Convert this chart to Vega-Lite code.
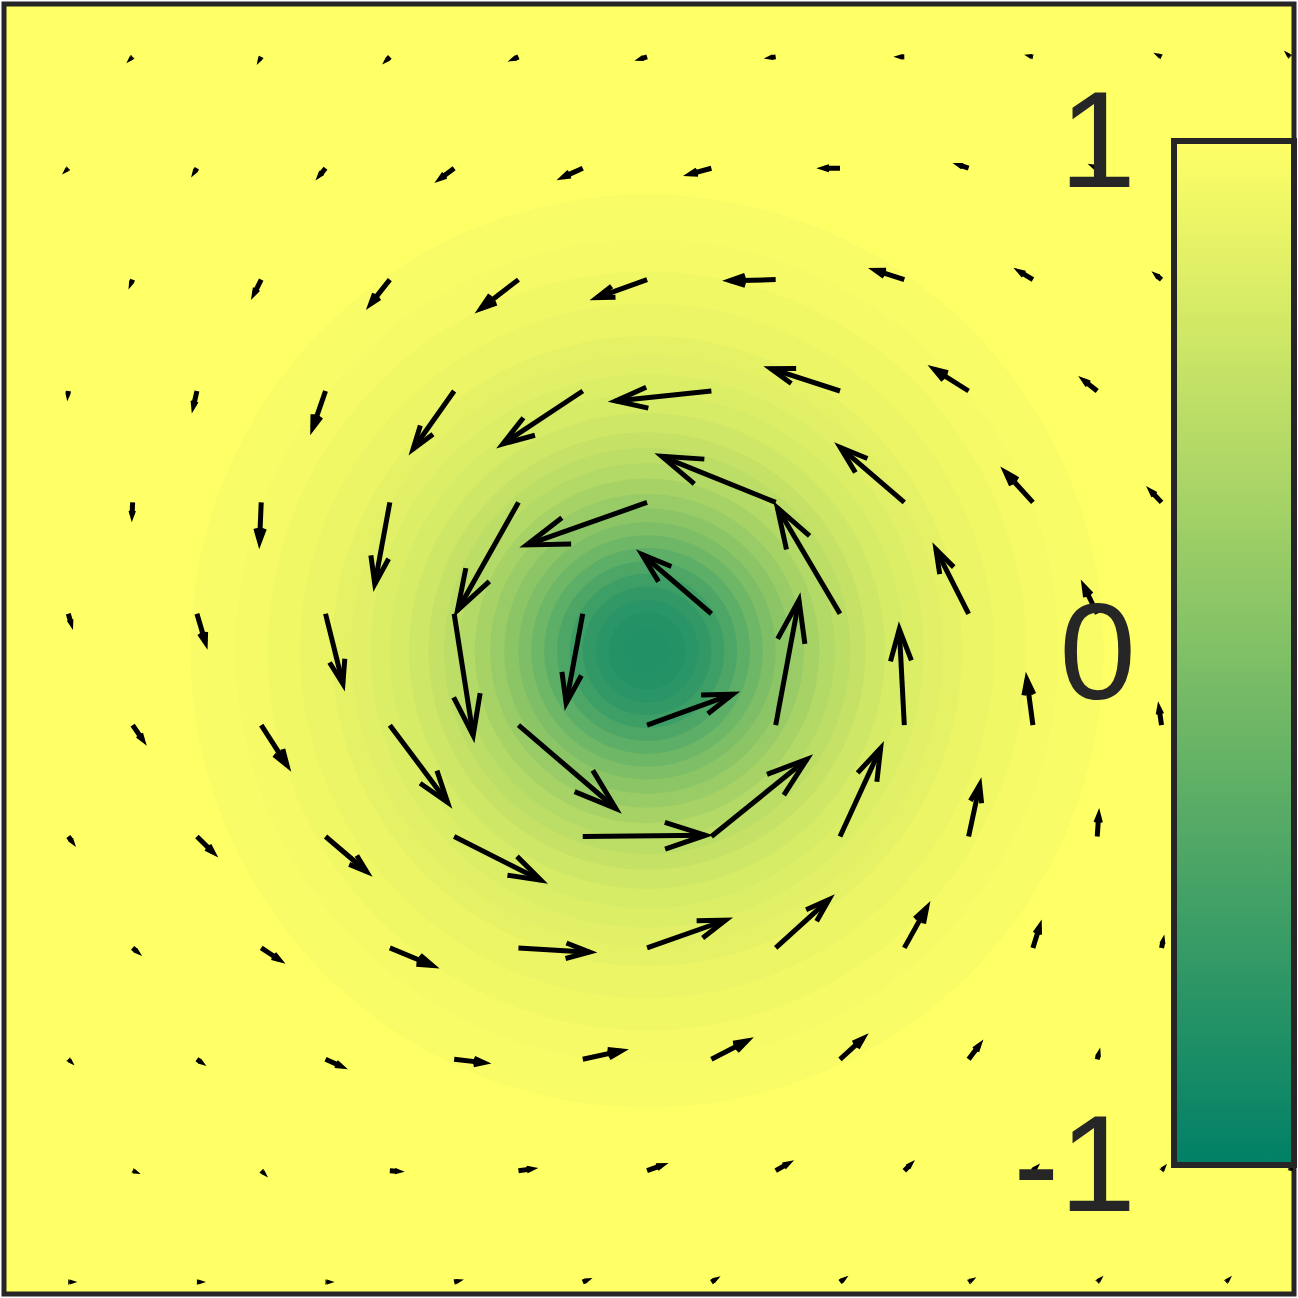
{
  "$schema": "https://vega.github.io/schema/vega-lite/v6.json",
  "width": 1290,
  "height": 1290,
  "padding": {"left": 4, "top": 4, "right": 4, "bottom": 4},
  "autosize": {"type": "none"},
  "background": "white",
  "config": {
    "font": "Liberation Sans, Arial, Helvetica, Roboto, sans-serif",
    "view": {"fill": "#FFFF66", "stroke": "#262626", "strokeWidth": 5},
    "legend": {"labelFont": "Liberation Sans, Arial, Helvetica, Roboto, sans-serif"}
  },
  "datasets": {
    "field": [
      {"cx": 0, "cy": 0, "r": 3.55, "z": 0.955},
      {"cx": 0, "cy": 0, "r": 3.45, "z": 0.945},
      {"cx": 0, "cy": 0, "r": 3.2, "z": 0.92},
      {"cx": 0, "cy": 0, "r": 2.95, "z": 0.89},
      {"cx": 0, "cy": 0, "r": 2.7, "z": 0.85},
      {"cx": 0, "cy": 0, "r": 2.45, "z": 0.8},
      {"cx": 0, "cy": 0, "r": 2.3, "z": 0.765},
      {"cx": 0, "cy": 0, "r": 2.15, "z": 0.725},
      {"cx": 0, "cy": 0, "r": 2.0, "z": 0.68},
      {"cx": 0, "cy": 0, "r": 1.85, "z": 0.62},
      {"cx": 0, "cy": 0, "r": 1.7, "z": 0.55},
      {"cx": 0, "cy": 0, "r": 1.58, "z": 0.48},
      {"cx": 0, "cy": 0, "r": 1.46, "z": 0.4},
      {"cx": 0, "cy": 0, "r": 1.34, "z": 0.31},
      {"cx": 0, "cy": 0, "r": 1.22, "z": 0.2},
      {"cx": 0, "cy": 0, "r": 1.11, "z": 0.09},
      {"cx": 0, "cy": 0, "r": 1.0, "z": -0.02},
      {"cx": 0, "cy": 0, "r": 0.9, "z": -0.14},
      {"cx": 0, "cy": 0, "r": 0.8, "z": -0.27},
      {"cx": 0, "cy": 0, "r": 0.7, "z": -0.4},
      {"cx": 0, "cy": 0, "r": 0.6, "z": -0.52},
      {"cx": 0, "cy": 0, "r": 0.5, "z": -0.61},
      {"cx": 0, "cy": 0, "r": 0.4, "z": -0.67},
      {"cx": 0, "cy": 0, "r": 0.3, "z": -0.71},
      {"cx": 0, "cy": 0, "r": 0.18, "z": -0.73}
    ],
    "arrows": [
      {"x": -4, "y": 4.619, "u": -0.005, "v": -0.005},
      {"x": -3, "y": 4.619, "u": -0.005, "v": -0.009},
      {"x": -2, "y": 4.619, "u": -0.016, "v": -0.016},
      {"x": -1, "y": 4.619, "u": -0.027, "v": -0.012},
      {"x": 0, "y": 4.619, "u": -0.039, "v": -0.012},
      {"x": 1, "y": 4.619, "u": -0.031, "v": -0.004},
      {"x": 2, "y": 4.619, "u": -0.023, "v": 0.0},
      {"x": 3, "y": 4.619, "u": -0.008, "v": 0.002},
      {"x": 4, "y": 4.619, "u": -0.008, "v": 0.004},
      {"x": 5, "y": 4.619, "u": -0.005, "v": 0.005},
      {"x": -4.5, "y": 3.753, "u": -0.005, "v": -0.005},
      {"x": -3.5, "y": 3.753, "u": -0.012, "v": -0.019},
      {"x": -2.5, "y": 3.753, "u": -0.039, "v": -0.047},
      {"x": -1.5, "y": 3.753, "u": -0.104, "v": -0.078},
      {"x": -0.5, "y": 3.753, "u": -0.148, "v": -0.067},
      {"x": 0.5, "y": 3.753, "u": -0.161, "v": -0.044},
      {"x": 1.5, "y": 3.753, "u": -0.122, "v": 0.0},
      {"x": 2.5, "y": 3.753, "u": -0.066, "v": 0.022},
      {"x": 3.5, "y": 3.753, "u": -0.019, "v": 0.009},
      {"x": 4.5, "y": 3.753, "u": -0.008, "v": 0.008},
      {"x": -4, "y": 2.887, "u": -0.008, "v": -0.019},
      {"x": -3, "y": 2.887, "u": -0.052, "v": -0.103},
      {"x": -2, "y": 2.887, "u": -0.148, "v": -0.187},
      {"x": -1, "y": 2.887, "u": -0.292, "v": -0.225},
      {"x": 0, "y": 2.887, "u": -0.389, "v": -0.14},
      {"x": 1, "y": 2.887, "u": -0.355, "v": -0.008},
      {"x": 2, "y": 2.887, "u": -0.223, "v": 0.072},
      {"x": 3, "y": 2.887, "u": -0.099, "v": 0.06},
      {"x": 4, "y": 2.887, "u": -0.031, "v": 0.026},
      {"x": 5, "y": 2.887, "u": -0.012, "v": 0.012},
      {"x": -4.5, "y": 2.021, "u": -0.002, "v": -0.019},
      {"x": -3.5, "y": 2.021, "u": -0.026, "v": -0.114},
      {"x": -2.5, "y": 2.021, "u": -0.099, "v": -0.285},
      {"x": -1.5, "y": 2.021, "u": -0.319, "v": -0.451},
      {"x": -0.5, "y": 2.021, "u": -0.622, "v": -0.412},
      {"x": 0.5, "y": 2.021, "u": -0.744, "v": -0.078},
      {"x": 1.5, "y": 2.021, "u": -0.537, "v": 0.174},
      {"x": 2.5, "y": 2.021, "u": -0.267, "v": 0.169},
      {"x": 3.5, "y": 2.021, "u": -0.099, "v": 0.078},
      {"x": 4.5, "y": 2.021, "u": -0.023, "v": 0.023},
      {"x": -4, "y": 1.155, "u": -0.004, "v": -0.093},
      {"x": -3, "y": 1.155, "u": -0.013, "v": -0.303},
      {"x": -2, "y": 1.155, "u": -0.117, "v": -0.635},
      {"x": -1, "y": 1.155, "u": -0.474, "v": -0.84},
      {"x": 0, "y": 1.155, "u": -0.935, "v": -0.331},
      {"x": 1, "y": 1.155, "u": -0.886, "v": 0.358},
      {"x": 2, "y": 1.155, "u": -0.498, "v": 0.428},
      {"x": 3, "y": 1.155, "u": -0.212, "v": 0.233},
      {"x": 4, "y": 1.155, "u": -0.078, "v": 0.083},
      {"x": 5, "y": 1.155, "u": -0.023, "v": 0.031},
      {"x": -4.5, "y": 0.289, "u": 0.019, "v": -0.066},
      {"x": -3.5, "y": 0.289, "u": 0.065, "v": -0.22},
      {"x": -2.5, "y": 0.289, "u": 0.135, "v": -0.544},
      {"x": -1.5, "y": 0.289, "u": 0.148, "v": -0.946},
      {"x": -0.5, "y": 0.289, "u": -0.129, "v": -0.695},
      {"x": 0.5, "y": 0.289, "u": -0.539, "v": 0.461},
      {"x": 1.5, "y": 0.289, "u": -0.487, "v": 0.824},
      {"x": 2.5, "y": 0.289, "u": -0.254, "v": 0.5},
      {"x": 3.5, "y": 0.289, "u": -0.101, "v": 0.21},
      {"x": 4.5, "y": 0.289, "u": -0.023, "v": 0.062},
      {"x": -4, "y": -0.577, "u": 0.075, "v": -0.109},
      {"x": -3, "y": -0.577, "u": 0.2, "v": -0.311},
      {"x": -2, "y": -0.577, "u": 0.449, "v": -0.601},
      {"x": -1, "y": -0.577, "u": 0.757, "v": -0.648},
      {"x": 0, "y": -0.577, "u": 0.666, "v": 0.241},
      {"x": 1, "y": -0.577, "u": 0.181, "v": 0.972},
      {"x": 2, "y": -0.577, "u": -0.039, "v": 0.746},
      {"x": 3, "y": -0.577, "u": -0.047, "v": 0.353},
      {"x": 4, "y": -0.577, "u": -0.018, "v": 0.124},
      {"x": 5, "y": -0.577, "u": -0.004, "v": 0.039},
      {"x": -4.5, "y": -1.443, "u": 0.023, "v": -0.031},
      {"x": -3.5, "y": -1.443, "u": 0.122, "v": -0.12},
      {"x": -2.5, "y": -1.443, "u": 0.319, "v": -0.272},
      {"x": -1.5, "y": -1.443, "u": 0.674, "v": -0.34},
      {"x": -0.5, "y": -1.443, "u": 0.954, "v": 0.01},
      {"x": 0.5, "y": -1.443, "u": 0.743, "v": 0.601},
      {"x": 1.5, "y": -1.443, "u": 0.316, "v": 0.687},
      {"x": 2.5, "y": -1.443, "u": 0.086, "v": 0.401},
      {"x": 3.5, "y": -1.443, "u": 0.011, "v": 0.16},
      {"x": 4.5, "y": -1.443, "u": 0.0, "v": 0.039},
      {"x": -4, "y": -2.309, "u": 0.027, "v": -0.023},
      {"x": -3, "y": -2.309, "u": 0.137, "v": -0.09},
      {"x": -2, "y": -2.309, "u": 0.33, "v": -0.137},
      {"x": -1, "y": -2.309, "u": 0.552, "v": -0.033},
      {"x": 0, "y": -2.309, "u": 0.61, "v": 0.215},
      {"x": 1, "y": -2.309, "u": 0.414, "v": 0.376},
      {"x": 2, "y": -2.309, "u": 0.173, "v": 0.311},
      {"x": 3, "y": -2.309, "u": 0.05, "v": 0.161},
      {"x": 4, "y": -2.309, "u": 0.009, "v": 0.043},
      {"x": 5, "y": -2.309, "u": 0.0, "v": 0.012},
      {"x": -4.5, "y": -3.175, "u": 0.005, "v": -0.005},
      {"x": -3.5, "y": -3.175, "u": 0.023, "v": -0.016},
      {"x": -2.5, "y": -3.175, "u": 0.117, "v": -0.052},
      {"x": -1.5, "y": -3.175, "u": 0.228, "v": -0.026},
      {"x": -0.5, "y": -3.175, "u": 0.298, "v": 0.065},
      {"x": 0.5, "y": -3.175, "u": 0.275, "v": 0.142},
      {"x": 1.5, "y": -3.175, "u": 0.177, "v": 0.16},
      {"x": 2.5, "y": -3.175, "u": 0.078, "v": 0.104},
      {"x": 3.5, "y": -3.175, "u": 0.008, "v": 0.031},
      {"x": 4.5, "y": -3.175, "u": 0.002, "v": 0.008},
      {"x": -4, "y": -4.041, "u": 0.005, "v": -0.002},
      {"x": -3, "y": -4.041, "u": 0.009, "v": -0.009},
      {"x": -2, "y": -4.041, "u": 0.054, "v": -0.004},
      {"x": -1, "y": -4.041, "u": 0.093, "v": 0.012},
      {"x": 0, "y": -4.041, "u": 0.109, "v": 0.039},
      {"x": 1, "y": -4.041, "u": 0.089, "v": 0.051},
      {"x": 2, "y": -4.041, "u": 0.039, "v": 0.039},
      {"x": 3, "y": -4.041, "u": 0.012, "v": 0.012},
      {"x": 4, "y": -4.041, "u": 0.004, "v": 0.005},
      {"x": 5, "y": -4.041, "u": 0.002, "v": 0.006},
      {"x": -4.5, "y": -4.907, "u": 0.008, "v": 0.0},
      {"x": -3.5, "y": -4.907, "u": 0.008, "v": 0.0},
      {"x": -2.5, "y": -4.907, "u": 0.008, "v": 0.0},
      {"x": -1.5, "y": -4.907, "u": 0.016, "v": 0.004},
      {"x": -0.5, "y": -4.907, "u": 0.019, "v": 0.008},
      {"x": 0.5, "y": -4.907, "u": 0.019, "v": 0.012},
      {"x": 1.5, "y": -4.907, "u": 0.016, "v": 0.012},
      {"x": 2.5, "y": -4.907, "u": 0.008, "v": 0.005},
      {"x": 3.5, "y": -4.907, "u": 0.005, "v": 0.005},
      {"x": 4.5, "y": -4.907, "u": 0.004, "v": 0.004}
    ]
  },
  "resolve": {"scale": {"size": "independent"}},
  "layer": [
    {
      "data": {"name": "field"},
      "mark": {"type": "point", "shape": "circle", "filled": true, "opacity": 1, "strokeWidth": 0},
      "encoding": {
        "x": {"field": "cx", "type": "quantitative", "scale": {"domain": [-5, 5.03], "nice": false, "zero": false}, "axis": null},
        "y": {"field": "cy", "type": "quantitative", "scale": {"domain": [-5, 5.03], "nice": false, "zero": false}, "axis": null},
        "size": {"field": "r", "type": "quantitative", "scale": {"type": "pow", "exponent": 2, "domain": [0, 1], "range": [0, 66165], "clamp": false}, "legend": null},
        "order": {"field": "r", "sort": "descending"},
        "color": {
          "field": "z",
          "type": "quantitative",
          "scale": {"domain": [-1, 1], "range": ["#008066", "#FFFF66"], "interpolate": "rgb"},
          "legend": {
            "orient": "none",
            "legendX": 1170,
            "legendY": 137,
            "direction": "vertical",
            "title": null,
            "padding": 0,
            "gradientLength": 1024,
            "gradientThickness": 120,
            "gradientStrokeColor": "#262626",
            "gradientStrokeWidth": 6,
            "values": [-1, 0, 1],
            "labelExpr": "'' + datum.value",
            "labelFont": "Liberation Sans, Arial, Helvetica, Roboto, sans-serif",
            "labelFontSize": 138,
            "labelColor": "#262626",
            "labelOffset": -158,
            "labelOverlap": false,
            "labelLimit": 600,
            "encoding": {"labels": {"align": {"value": "right"}, "baseline": {"value": "middle"}, "dy": {"value": 5}}}
          }
        }
      }
    },
    {
      "data": {"name": "arrows"},
      "transform": [
        {"calculate": "datum.x + datum.u", "as": "xe"},
        {"calculate": "datum.y + datum.v", "as": "ye"}
      ],
      "mark": {"type": "rule", "color": "black", "strokeWidth": 5, "strokeCap": "butt"},
      "encoding": {
        "x": {"field": "x", "type": "quantitative", "scale": {"domain": [-5, 5.03], "nice": false, "zero": false}, "axis": null},
        "y": {"field": "y", "type": "quantitative", "scale": {"domain": [-5, 5.03], "nice": false, "zero": false}, "axis": null},
        "x2": {"field": "xe"},
        "y2": {"field": "ye"}
      }
    },
    {
      "data": {"name": "arrows"},
      "transform": [
        {"calculate": "datum.x + datum.u", "as": "xe"},
        {"calculate": "datum.y + datum.v", "as": "ye"},
        {"calculate": "atan2(-datum.v, datum.u) * 180 / PI", "as": "ang"},
        {"calculate": "datum.u * datum.u + datum.v * datum.v", "as": "m2"}
      ],
      "mark": {"type": "point", "shape": "M-1,-0.33L0,0L-1,0.33", "filled": false, "color": "black", "strokeWidth": 5, "opacity": 1, "strokeJoin": "miter", "strokeCap": "butt"},
      "encoding": {
        "x": {"field": "xe", "type": "quantitative", "scale": {"domain": [-5, 5.03], "nice": false, "zero": false}, "axis": null},
        "y": {"field": "ye", "type": "quantitative", "scale": {"domain": [-5, 5.03], "nice": false, "zero": false}, "axis": null},
        "angle": {"field": "ang", "type": "quantitative", "scale": null},
        "size": {"field": "m2", "type": "quantitative", "scale": {"type": "linear", "domain": [0, 1], "range": [0, 7205], "zero": true}, "legend": null}
      }
    }
  ]
}
